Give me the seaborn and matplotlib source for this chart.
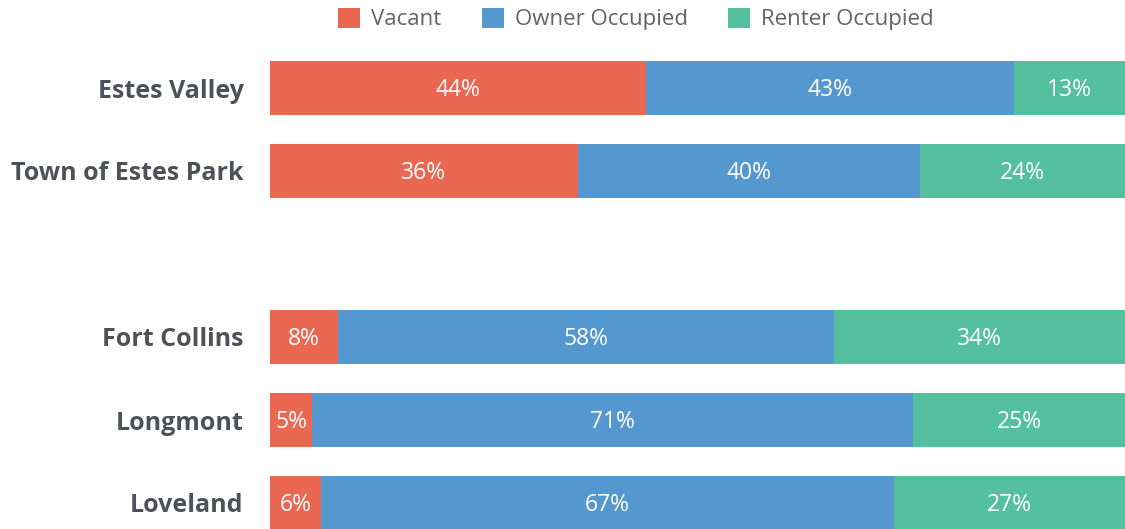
#!/usr/bin/env python3

import pandas as pd
import seaborn as sns
from matplotlib import pyplot as plt

areas = ["Estes Valley", "Town of Estes Park", "Fort Collins", "Longmont", "Loveland"]
vacant = [44, 36, 8, 5, 6]
owner = [43, 40, 58, 71, 67]
renter = [13, 24, 34, 25, 27]
series = ["Vacant", "Owner Occupied", "Renter Occupied"]
colors = ["#EA6852", "#5597CF", "#54C09E"]

# empty slot between the Estes rows and the other cities
order = areas[:2] + [" "] + areas[2:]


def main():
    sns.set_theme(style="white")
    plt.rcParams["font.family"] = ["Open Sans", "DejaVu Sans"]

    df = pd.DataFrame({"Area": areas, "Vacant": vacant, "Owner Occupied": owner, "Renter Occupied": renter})
    total = df[series].sum(axis=1)
    shares = df[series].div(total, axis=0) * 100
    cum = shares.cumsum(axis=1)
    cum["Area"] = df["Area"]

    fig = plt.figure(figsize=(11.25, 5.29), dpi=100)
    ax = fig.add_axes([270 / 1125, 0, 1 - 270 / 1125, 482.5 / 529])

    # draw cumulative totals back to front so the bars look stacked
    for name, color in reversed(list(zip(series, colors))):
        sns.barplot(cum, x=name, y="Area", order=order, color=color, width=0.66,
                    saturation=1, linewidth=0, errorbar=None, label=name, ax=ax)

    for i, area in enumerate(areas):
        row = order.index(area)
        left = 0
        for name in series:
            w = shares.loc[i, name]
            ax.text(left + w / 2, row + 0.02, f"{df.loc[i, name]}%", ha="center", va="center",
                    color="white", fontsize=16.5)
            left += w

    ax.set_xlim(0, 100)
    ax.set_ylim(5.5 - 15.5 / 83, -0.5)
    ax.set_xlabel("")
    ax.set_ylabel("")
    ax.set_xticks([])
    ax.tick_params(axis="y", length=0, pad=19)
    for lab in ax.get_yticklabels():
        lab.set_fontweight("bold")
        lab.set_fontsize(18)
        lab.set_color("#4E5256")
    sns.despine(ax=ax, left=True, bottom=True)

    handles, labels = ax.get_legend_handles_labels()
    lookup = dict(zip(labels, handles))
    ax.get_legend().remove()
    leg = fig.legend([lookup[s] for s in series], series, loc="center", bbox_to_anchor=(636 / 1125, 1 - 19 / 529),
                     ncol=3, frameon=False, fontsize=16, handlelength=1, handleheight=1,
                     handletextpad=0.5, columnspacing=1.8)
    for t in leg.get_texts():
        t.set_color("#606468")

    fig.savefig("out.png", dpi=100)
    plt.close(fig)


if __name__ == '__main__':
    main()
